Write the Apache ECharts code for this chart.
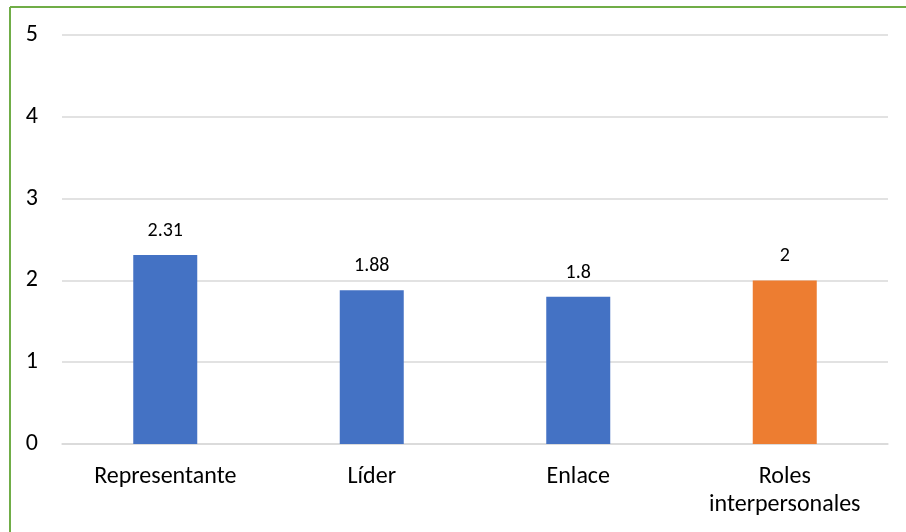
<!DOCTYPE html>
<html>
<head>
<meta charset="utf-8">
<script src="https://cdn.jsdelivr.net/npm/echarts@6/dist/echarts.min.js"></script>
<style>
  html, body { margin: 0; padding: 0; background: #fff; }
  #chart { width: 906px; height: 532px; }
</style>
</head>
<body>
<div id="chart"></div>
<script>
// Role categories and their mean scores
const categories = ['Representante', 'Líder', 'Enlace', 'Roles\ninterpersonales'];
const scores = [2.31, 1.88, 1.8, 2];
const barColors = ['#4472C4', '#4472C4', '#4472C4', '#ED7D31'];
const yTicks = [0, 1, 2, 3, 4, 5];

const chart = echarts.init(document.getElementById('chart'));
const font = 'Carlito, "Open Sans", "Liberation Sans", sans-serif';

chart.setOption({
  animation: false,
  grid: { left: 62, right: 18, top: 35, bottom: 88 },
  graphic: [
    // green frame along the top and left edges
    { type: 'line', shape: { x1: 10, y1: 7, x2: 906, y2: 7 }, style: { stroke: '#70AD47', lineWidth: 2 } },
    { type: 'line', shape: { x1: 10, y1: 7, x2: 10, y2: 532 }, style: { stroke: '#70AD47', lineWidth: 2 } }
  ],
  xAxis: {
    type: 'category',
    data: categories,
    axisLine: { lineStyle: { color: '#d9d9d9', width: 1.5 } },
    axisTick: { show: false },
    axisLabel: { color: '#000', fontSize: 24, fontFamily: font, margin: 19, lineHeight: 28, interval: 0 }
  },
  yAxis: {
    type: 'value',
    min: yTicks[0],
    max: yTicks[yTicks.length - 1],
    interval: 1,
    axisLine: { show: false },
    axisTick: { show: false },
    splitLine: { lineStyle: { color: '#d9d9d9', width: 1.5 } },
    axisLabel: { color: '#000', fontSize: 24, fontFamily: font, margin: 24 }
  },
  series: [{
    type: 'bar',
    barWidth: 64,
    data: scores.map((v, i) => ({ value: v, itemStyle: { color: barColors[i] } })),
    label: {
      show: true,
      position: 'top',
      distance: 14,
      color: '#000',
      fontSize: 20,
      fontFamily: font
    }
  }]
});
</script>
</body>
</html>
